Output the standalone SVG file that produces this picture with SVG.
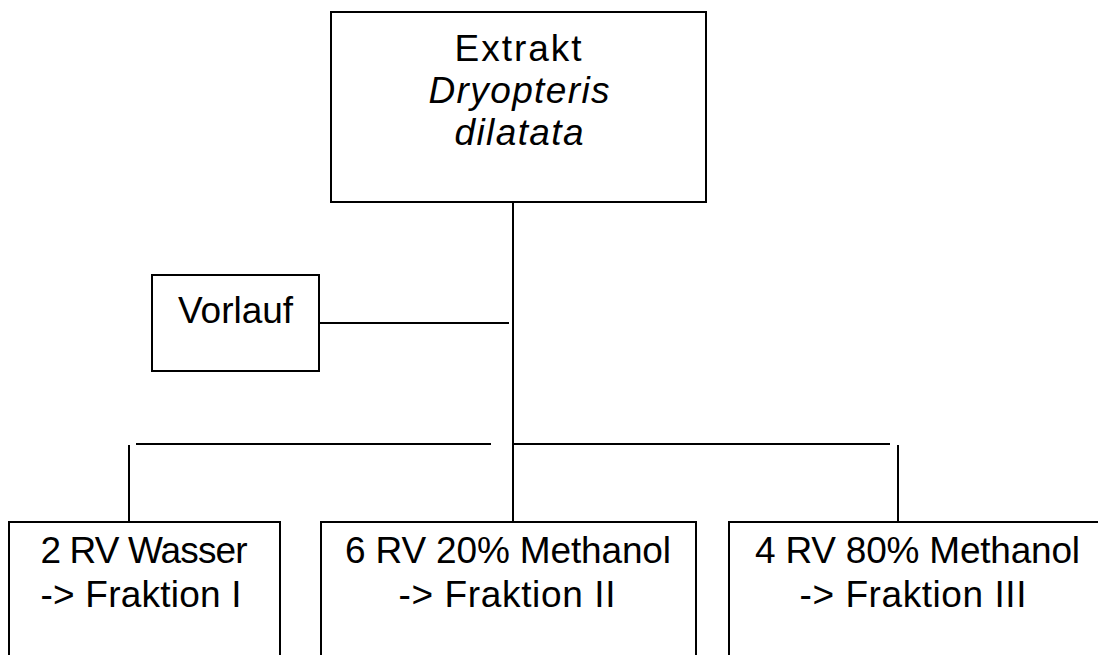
<svg xmlns="http://www.w3.org/2000/svg" width="1098" height="655" viewBox="0 0 1098 655">
<style>
  .box { fill: #ffffff; stroke: #000000; stroke-width: 2; }
  .ln { stroke: #000000; stroke-width: 2; fill: none; }
  .t { font-family: "Liberation Sans", Arial, sans-serif; font-size: 37px; fill: #000000; text-anchor: middle; }
  .it { font-style: italic; }
</style>
<rect width="1098" height="655" fill="#ffffff"/>
<g id="connectors">
  <line class="ln" x1="513" y1="202" x2="513" y2="522"/>
  <line class="ln" x1="319" y1="323" x2="509" y2="323"/>
  <line class="ln" x1="136" y1="444" x2="491" y2="444"/>
  <line class="ln" x1="129" y1="445" x2="129" y2="522"/>
  <line class="ln" x1="513" y1="444" x2="890" y2="444"/>
  <line class="ln" x1="898" y1="445" x2="898" y2="522"/>
</g>
<g id="extrakt">
  <rect class="box" x="331" y="12" width="375" height="190"/>
  <text class="t" x="518" y="61" textLength="127">Extrakt</text>
  <text class="t it" x="519" y="103" textLength="181">Dryopteris</text>
  <text class="t it" x="519" y="145" textLength="129">dilatata</text>
</g>
<g id="vorlauf">
  <rect class="box" x="152" y="275" width="167" height="96"/>
  <text class="t" x="235.5" y="323" textLength="115">Vorlauf</text>
</g>
<g id="fraktion1">
  <rect class="box" x="9" y="522" width="271" height="150"/>
  <text class="t" x="144" y="563" textLength="207">2 RV Wasser</text>
  <text class="t" x="141" y="607" textLength="201">-&gt; Fraktion I</text>
</g>
<g id="fraktion2">
  <rect class="box" x="321" y="522" width="375" height="150"/>
  <text class="t" x="508" y="563" textLength="326">6 RV 20% Methanol</text>
  <text class="t" x="507" y="607" textLength="217">-&gt; Fraktion II</text>
</g>
<g id="fraktion3">
  <rect class="box" x="729" y="522" width="390" height="150"/>
  <text class="t" x="917.5" y="563" textLength="325">4 RV 80% Methanol</text>
  <text class="t" x="913" y="607" textLength="227">-&gt; Fraktion III</text>
</g>
</svg>
